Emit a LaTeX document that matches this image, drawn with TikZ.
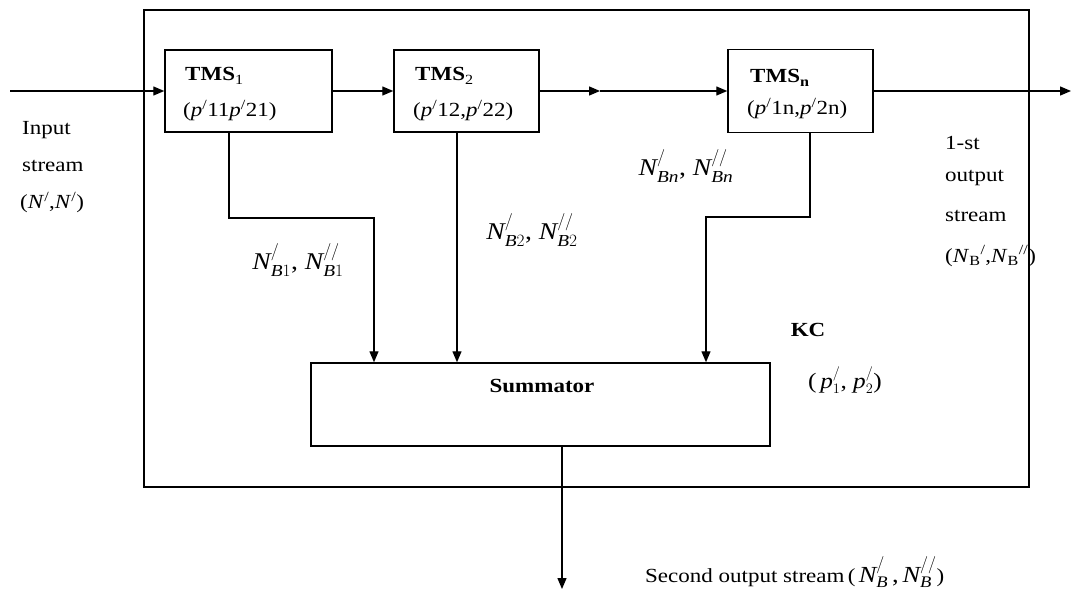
\documentclass[tikz,border=0pt]{standalone}
\usepackage{amsmath}
\usepackage{fontspec}
\setmainfont{Liberation Serif}[FakeStretch=1.15]
\usetikzlibrary{arrows.meta}
\newcommand{\Nsym}[2]{\ensuremath{\textit{N}^{#1}_{#2}}}
\tikzset{
  box/.style={draw, line width=1.5pt, inner sep=0pt},
  outerbox/.style={draw, line width=2.4pt, inner sep=0pt},
  conn/.style={line width=1.4pt},
  arr/.style={conn, -{Triangle[length=11pt,width=9pt]}},
  txt/.style={inner sep=0pt, font=\fontsize{20}{24}\selectfont},
  btxt/.style={inner sep=0pt, font=\fontsize{20}{24}\selectfont\bfseries},
  mtxt/.style={inner sep=0pt, font=\fontsize{24}{28}\selectfont}
}
\begin{document}
\begin{tikzpicture}[x=1pt,y=-1pt]
\useasboundingbox[fill=white] (0,0) rectangle (1072,591);
% boxes
\node[outerbox, minimum width=885, minimum height=477] (kc) at (586.5,248.5) {};
\node[box, minimum width=167, minimum height=82] (tms1) at (248.5,91) {};
\node[box, minimum width=145, minimum height=82] (tms2) at (466.5,91) {};
\node[box, minimum width=145, minimum height=83] (tmsn) at (800.5,91) {};
\node[box, minimum width=459, minimum height=83] (summ) at (540.5,404.5) {};
% box texts
\node[btxt, anchor=base west] (t1) at (185,81) {TMS\textsubscript{\mdseries 1}};
\node[txt, anchor=base west] (p1) at (183,117) {(\textit{p}\textsuperscript{/}11\textit{p}\textsuperscript{/}21)};
\node[btxt, anchor=base west] (t2) at (415,81) {TMS\textsubscript{\mdseries 2}};
\node[txt, anchor=base west] (p2) at (413,117) {(\textit{p}\textsuperscript{/}12,\textit{p}\textsuperscript{/}22)};
\node[btxt, anchor=base west] (tn) at (750,83) {TMS\textsubscript{n}};
\node[txt, anchor=base west] (pn) at (747,115) {(\textit{p}\textsuperscript{/}1n,\textit{p}\textsuperscript{/}2n)};
\node[btxt] (lsum) at (542,386) {Summator};
% coordinates
\coordinate (in) at (10,91);
\coordinate (mid) at (600,91);
\coordinate (out1) at (1071,91);
\coordinate (b1) at (229,218);
\coordinate (s1) at (374,363);
\coordinate (x2) at (457,0);
\coordinate (bn) at (810,217);
\coordinate (sn) at (706,217);
\coordinate (out2) at (562,589);
% connectors
\draw[arr] (in) -- (tms1.west);
\draw[arr] (tms1.east) -- (tms2.west);
\draw[arr] (tms2.east) -- (mid);
\draw[arr] (mid) -- (tmsn.west);
\draw[arr] (tmsn.east) -- (out1);
\draw[arr] (tms1.south -| b1) -- (b1) -- (b1 -| s1) -- (summ.north -| s1);
\draw[arr] (tms2.south -| x2) -- (summ.north -| x2);
\draw[arr] (tmsn.south -| bn) -- (bn) -- (sn) -- (summ.north -| sn);
\draw[arr] (summ.south -| out2) -- (out2);
% labels
\node[txt, anchor=base west] (in1) at (22,135) {Input};
\node[txt, anchor=base west] (in2) at (22,172) {stream};
\node[txt, anchor=base west] (in3) at (20,209) {(\textit{N}\textsuperscript{/},\textit{N}\textsuperscript{/})};
\node[txt, anchor=base west] (o1) at (945,150) {1-st};
\node[txt, anchor=base west] (o2) at (945,182) {output};
\node[txt, anchor=base west] (o3) at (945,222) {stream};
\node[txt, anchor=base west] (o4) at (945,262) {(\textit{N}\textsubscript{B}\textsuperscript{/},\textit{N}\textsubscript{B}\textsuperscript{//})};
\node[mtxt] (nb1) at (298,260) {\Nsym{/}{\textit{B}1}, \Nsym{//}{\textit{B}1}};
\node[mtxt] (nb2) at (532,230) {\Nsym{/}{\textit{B}2}, \Nsym{//}{\textit{B}2}};
\node[mtxt] (nbn) at (686,166) {\Nsym{/}{\textit{Bn}}, \Nsym{//}{\textit{Bn}}};
\node[btxt] (lkc) at (808,330) {KC};
\node[mtxt, font=\fontsize{22}{26}\selectfont] (lp) at (845,380) {(\,$\textit{p}^{/}_{1}$, $\textit{p}^{/}_{2}$)};
\node[txt, anchor=base west] (lout2) at (645,582) {Second output stream\,(\,{\fontsize{23}{26}\selectfont\Nsym{/}{\textit{B}}\,,\,\Nsym{//}{\textit{B}}})};
\end{tikzpicture}
\end{document}
